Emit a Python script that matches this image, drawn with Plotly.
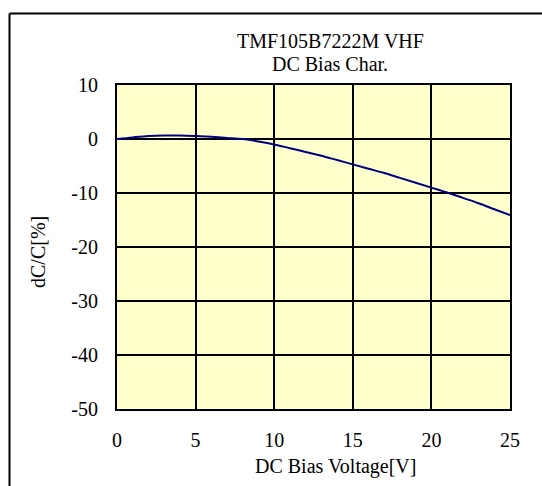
import plotly.graph_objects as go

voltage = [0, 1, 2, 3, 4, 5, 6, 7, 8, 9, 10, 11, 12, 13, 14, 15, 16, 17, 18, 19, 20, 21, 22, 23, 24, 25]
dcc = [0.0, 0.3, 0.55, 0.65, 0.65, 0.55, 0.4, 0.2, 0.0, -0.45, -1.0, -1.7, -2.4, -3.1, -3.9, -4.7,
       -5.5, -6.3, -7.2, -8.1, -9.0, -9.9, -10.9, -11.9, -13.0, -14.1]
x_ticks = [0, 5, 10, 15, 20, 25]
x_tick_labels = ["0", "5", "10", "15", "20", "25"]
y_ticks = [10, 0, -10, -20, -30, -40, -50]
y_tick_labels = ["10", "0", "-10", "-20", "-30", "-40", "-50"]

title_lines = ["TMF105B7222M VHF", "DC Bias Char."]
x_title = "DC Bias Voltage[V]"
y_title = "dC/C[%]"

FONT = "Liberation Serif"

fig = go.Figure()
fig.add_trace(go.Scatter(x=voltage, y=dcc, mode="lines",
                         line=dict(color="#000080", width=2, shape="spline"),
                         showlegend=False, hoverinfo="skip"))

L, R, T, B = 117, 32, 85, 77
W, H = 542, 486
pw = W - L - R
ph = H - T - B

def px_x(p):
    return (p - L) / pw

def px_y(p):
    return (H - B - p) / ph

fig.update_layout(
    width=W, height=H,
    margin=dict(l=L, r=R, t=T, b=B, pad=0),
    paper_bgcolor="white",
    plot_bgcolor="#FFFFCC",
    font=dict(family=FONT, size=20, color="black"),
    xaxis=dict(range=[0, 25], tickvals=x_ticks, ticktext=x_tick_labels, ticks="",
               showgrid=True, gridcolor="black", gridwidth=1.5, zeroline=False,
               showline=True, linecolor="black", linewidth=2, mirror=True,
               ticklabelstandoff=12, fixedrange=True),
    yaxis=dict(range=[-50, 10], tickvals=y_ticks, ticktext=y_tick_labels, ticks="",
               showgrid=True, gridcolor="black", gridwidth=1.5, zeroline=False,
               showline=True, linecolor="black", linewidth=2, mirror=True,
               ticklabelstandoff=13, fixedrange=True),
    annotations=[
        dict(text=title_lines[0], xref="paper", yref="paper",
             x=px_x(330), y=px_y(41), xanchor="center", yanchor="middle",
             showarrow=False, font=dict(family=FONT, size=20)),
        dict(text=title_lines[1], xref="paper", yref="paper",
             x=px_x(330), y=px_y(64), xanchor="center", yanchor="middle",
             showarrow=False, font=dict(family=FONT, size=20)),
        dict(text=x_title, xref="paper", yref="paper",
             x=px_x(335), y=px_y(466), xanchor="center", yanchor="middle",
             showarrow=False, font=dict(family=FONT, size=20)),
        dict(text=y_title, xref="paper", yref="paper", textangle=-90,
             x=px_x(38), y=px_y(252), xanchor="center", yanchor="middle",
             showarrow=False, font=dict(family=FONT, size=20)),
    ],
    shapes=[
        dict(type="line", xref="paper", yref="paper",
             x0=px_x(9.5), x1=px_x(600), y0=px_y(13.5), y1=px_y(13.5),
             line=dict(color="black", width=2)),
        dict(type="line", xref="paper", yref="paper",
             x0=px_x(9.5), x1=px_x(9.5), y0=px_y(13.5), y1=px_y(600),
             line=dict(color="black", width=2)),
    ],
)

fig.write_html("out.html", config={"displayModeBar": False},
               post_script="document.body.style.margin='0';document.body.style.padding='0';")
